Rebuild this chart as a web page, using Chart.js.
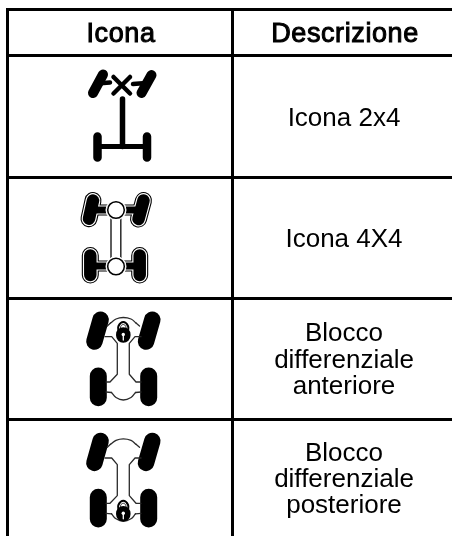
<!DOCTYPE html>
<html lang="it">

<head>
  <meta charset="UTF-8">
  <title>Icona / Descrizione</title>
  <style>
    html, body { margin: 0; padding: 0; background: #fff; }
    canvas { display: block; }
  </style>
</head>

<body>
  <canvas id="table" width="452" height="536"></canvas>

  <script src="https://cdn.jsdelivr.net/npm/chart.js"></script>
  <script>
    // table rules
    const columnRules = [7.5, 232];
    const rowRules = [9.5, 55, 177, 298.5, 419.5];

    // text of the table, one entry per line
    const headers = ['Icona', 'Descrizione'];
    const headerColumns = [121, 345];
    const headerBaseline = 42;
    const descriptions = ['Icona 2x4', 'Icona 4X4', 'Blocco', 'differenziale', 'anteriore', 'Blocco', 'differenziale', 'posteriore'];
    const descriptionBaselines = [126, 247, 341, 367.5, 394, 460.5, 487, 513];
    const descriptionColumn = 344;

    // 2x4 icon
    const twoFrontWheels = [[[103, 74.5], [93, 93]], [[151.5, 75], [141.5, 93]]];
    const twoFrontStubs = [[[97, 83.5], [110, 82.5]], [[133, 84], [146, 83]]];
    const twoCross = [[[113.5, 77], [130, 93.5]], [[130, 77], [113.5, 93.5]]];
    const twoRearWheels = [[[97.5, 136.5], [97.5, 157.5]], [[147, 136.5], [147, 157.5]]];
    const twoAxle = [[97.5, 146.5], [147, 146.5]];
    const twoShaft = [[122.5, 99], [122.5, 146.5]];

    // 4x4 icon
    const fourWheels = [
      [[93, 200.5], [89, 218.7]], [[143.5, 200.5], [138.5, 219]],
      [[90.3, 255.5], [90.3, 275]], [[139.7, 255.5], [139.7, 275]]
    ];
    const fourAxles = [[[90, 210], [142, 210]], [[90, 266], [140, 266]]];
    const fourHubs = [[116, 210], [116, 266.5]];
    const fourBody = [[111, 218], [111, 258]];
    const fourBodyRight = [[120.8, 218], [120.8, 258]];

    // differential lock icons, second one sits lower by lockRowShift
    const lockRowShift = 121.3;
    const lockWheels = [
      [[100.6, 319.7], [94.4, 341.6]], [[152.3, 319.7], [146, 341.6]],
      [[98.3, 376], [98.3, 397.7]], [[148.7, 376], [148.7, 397.7]]
    ];
    const chassisLeft = [[105, 336.7], [111.7, 336.7], [117.3, 343.3], [117.3, 374.3], [110, 382], [106, 382]];
    const chassisRight = [[141, 336.7], [135, 336.7], [129.3, 343.3], [129.3, 374.3], [136, 382], [141, 382]];
    const frontArc = [[110.5, 323], [116, 319], [123.3, 317.5], [131, 319], [136, 323]];
    const rearArc = [[111.5, 392.5], [116, 397.5], [123.3, 400], [131, 397.5], [135.5, 392.5]];
    const archStubs = [
      [[107.3, 326], [110.5, 323]], [[136, 323], [139.5, 326]],
      [[106, 392], [111.5, 392.5]], [[135.5, 392.5], [141, 392]]
    ];
    const lockBody = [[123.3, 334.5], [123.3, 335.5]];
    const lockShackle = [[118.5, 332], [118.5, 326], [123.3, 322], [128, 326], [128, 332]];
    const lockShackleInner = [[120.7, 332], [120.7, 326.5], [123.3, 324.5], [125.8, 326.5], [125.8, 332]];
    const lockKeyStem = [[123.3, 333], [123.3, 338]];
    const lockKeyHole = [[123.3, 332.5]];
    const rearLockShift = 57.5;

    const ink = '#000';
    const paper = '#fff';
    const thin = '#2a2a2a';

    const datasets = [];

    function stroke(points, width, color, tension) {
      datasets.push({
        data: points.map(p => ({ x: p[0], y: p[1] })),
        showLine: true,
        borderColor: color,
        borderWidth: width,
        borderCapStyle: 'round',
        borderJoinStyle: 'round',
        tension: tension || 0,
        pointRadius: 0,
        fill: false
      });
    }

    function dot(point, radius, fillColor, edgeColor, edgeWidth) {
      datasets.push({
        data: [{ x: point[0], y: point[1] }],
        showLine: false,
        pointRadius: radius,
        pointBackgroundColor: fillColor,
        pointBorderColor: edgeColor,
        pointBorderWidth: edgeWidth
      });
    }

    function shifted(points, dy) {
      return points.map(p => [p[0], p[1] + dy]);
    }

    // 2x4
    twoFrontWheels.forEach(w => stroke(w, 10, ink));
    twoFrontStubs.forEach(s => stroke(s, 4.5, ink));
    twoCross.forEach(c => stroke(c, 4.5, ink));
    twoRearWheels.forEach(w => stroke(w, 8.5, ink));
    stroke(twoAxle, 5, ink);
    stroke(twoShaft, 5.5, ink);

    // 4x4: outline, halo, then fill
    fourWheels.forEach(w => stroke(w, 17, ink));
    fourAxles.forEach(a => stroke(a, 11, ink));
    fourWheels.forEach(w => stroke(w, 14.8, paper));
    fourAxles.forEach(a => stroke(a, 9, paper));
    fourWheels.forEach(w => stroke(w, 12.5, ink));
    fourAxles.forEach(a => stroke(a, 7, ink));
    stroke(fourBody, 1.5, thin);
    stroke(fourBodyRight, 1.5, thin);
    fourHubs.forEach(h => dot(h, 10, paper, paper, 1));
    fourHubs.forEach(h => dot(h, 8.3, paper, ink, 1.5));

    // differential lock icons
    function lockIcon(dy, lockDy) {
      lockWheels.forEach((w, i) => stroke(shifted(w, dy), i < 2 ? 16.5 : 17, ink));
      stroke(shifted(chassisLeft, dy), 1.3, thin);
      stroke(shifted(chassisRight, dy), 1.3, thin);
      stroke(shifted(frontArc, dy), 1.3, thin, 0.4);
      stroke(shifted(rearArc, dy), 1.3, thin, 0.4);
      archStubs.forEach(s => stroke(shifted(s, dy), 1.3, thin));
      const y = dy + lockDy;
      stroke(shifted(lockShackle, y), 2, ink, 0.4);
      stroke(shifted(lockShackleInner, y), 1, thin, 0.4);
      stroke(shifted(lockBody, y), 14.5, ink);
      dot([lockKeyHole[0][0], lockKeyHole[0][1] + y + 2], 1.7, paper, paper, 0);
      stroke(shifted(lockKeyStem, y + 2), 1.3, paper);
    }
    lockIcon(0, 0);
    lockIcon(lockRowShift, rearLockShift);

    // text goes through the scales like everything else
    const cellText = {
      id: 'cellText',
      afterDatasetsDraw(chart) {
        const { ctx, scales } = chart;
        ctx.save();
        ctx.fillStyle = ink;
        ctx.strokeStyle = ink;
        ctx.textAlign = 'center';
        ctx.textBaseline = 'alphabetic';
        ctx.font = '27px "Liberation Sans"';
        ctx.letterSpacing = '0.6px';
        ctx.lineWidth = 1;
        headers.forEach((h, i) => {
          const px = scales.x.getPixelForValue(headerColumns[i]);
          const py = scales.y.getPixelForValue(headerBaseline);
          ctx.fillText(h, px, py);
          ctx.strokeText(h, px, py);
        });
        ctx.letterSpacing = '0px';
        ctx.font = '26px "Liberation Sans"';
        descriptions.forEach((d, i) => {
          ctx.fillText(d, scales.x.getPixelForValue(descriptionColumn), scales.y.getPixelForValue(descriptionBaselines[i]));
        });
        ctx.restore();
      }
    };

    function gridAxis(rules, min, max, reverse) {
      return {
        type: 'linear',
        min: min,
        max: max,
        reverse: reverse,
        afterBuildTicks: axis => { axis.ticks = rules.map(v => ({ value: v })); },
        ticks: { display: false, autoSkip: false },
        border: { display: false },
        grid: { color: ink, lineWidth: 3, drawTicks: false }
      };
    }

    // Chart.js paints the first dataset on top, so hand them over back to front
    new Chart(document.getElementById('table'), {
      type: 'scatter',
      data: { datasets: datasets.reverse() },
      options: {
        responsive: false,
        animation: false,
        events: [],
        layout: { autoPadding: false, padding: { left: 6, top: 8 } },
        plugins: { legend: { display: false }, tooltip: { enabled: false } },
        scales: {
          x: gridAxis(columnRules, 6, 452, false),
          y: gridAxis(rowRules, 8, 536, true)
        }
      },
      plugins: [cellText]
    });
  </script>
</body>

</html>
